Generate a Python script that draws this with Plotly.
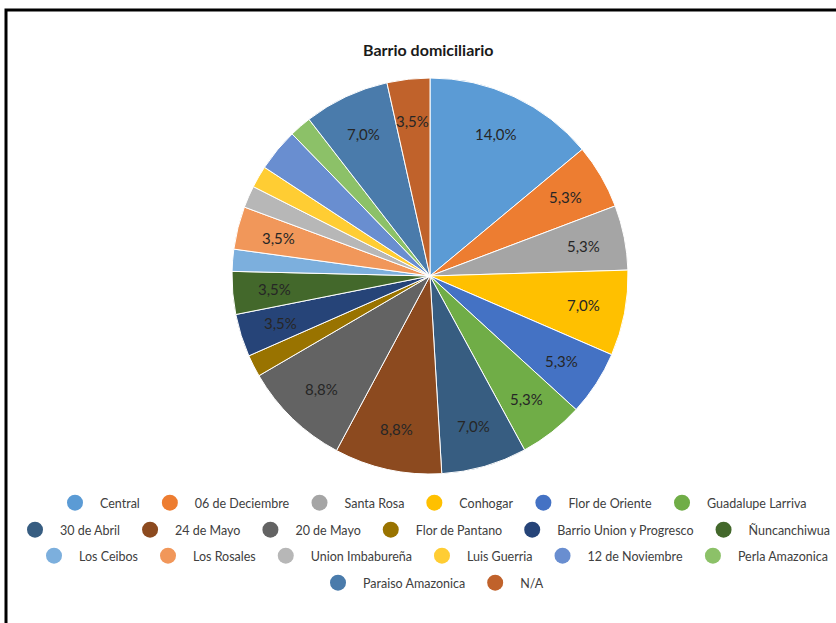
import math
import plotly.graph_objects as go

W, H = 836, 623

barrios = [
    "Central", "06 de Deciembre", "Santa Rosa", "Conhogar", "Flor de Oriente",
    "Guadalupe Larriva", "30 de Abril", "24 de Mayo", "20 de Mayo", "Flor de Pantano",
    "Barrio Union y Progresco", "Ñuncanchiwua", "Los Ceibos", "Los Rosales",
    "Union Imbabureña", "Luis Guerria", "12 de Noviembre", "Perla Amazonica",
    "Paraiso Amazonica", "N/A",
]
porcentajes = [14.0, 5.3, 5.3, 7.0, 5.3, 5.3, 7.0, 8.8, 8.8, 1.8,
               3.5, 3.5, 1.8, 3.5, 1.8, 1.8, 3.5, 1.8, 7.0, 3.5]
mostrar_etiqueta = [True, True, True, True, True, True, True, True, True, False,
                    True, True, False, True, False, False, False, False, True, True]
colores = [
    "#5B9BD5", "#ED7D31", "#A5A5A5", "#FFC000", "#4472C4", "#70AD47",
    "#375D81", "#8C4A1F", "#636363", "#997300", "#264478", "#43682B",
    "#7CAFDD", "#F1975A", "#B7B7B7", "#FFCD33", "#698ED0", "#8CC168",
    "#4A7BAB", "#C0622B",
]
filas_leyenda = [barrios[0:6], barrios[6:12], barrios[12:18], barrios[18:20]]

# pie geometry in pixels
cx, cy, R = 430, 276, 198
FONT = "Lato, Open Sans, sans-serif"

fig = go.Figure()
fig.add_trace(go.Pie(
    labels=barrios, values=porcentajes, sort=False, direction="clockwise",
    marker=dict(colors=colores, line=dict(color="white", width=1)),
    textinfo="none", hoverinfo="label+percent", showlegend=False,
    domain=dict(x=[(cx - R) / W, (cx + R) / W], y=[1 - (cy + R) / H, 1 - (cy - R) / H]),
))

# data labels at the slice mid-angles
total = sum(porcentajes)
acum = 0.0
for v, show in zip(porcentajes, mostrar_etiqueta):
    mid = (acum + v / 2) / total * 2 * math.pi
    acum += v
    if not show:
        continue
    r = 0.79 * R
    px = cx + r * math.sin(mid)
    py = cy - r * math.cos(mid)
    fig.add_annotation(
        x=px / W, y=1 - py / H, xref="paper", yref="paper", showarrow=False,
        text=f"{v:.1f}%".replace(".", ","),
        font=dict(family=FONT, size=15, color="#262626"),
        xanchor="center", yanchor="middle",
    )

# legend entries with round markers, one legend per row
fila_y = [503, 530, 556, 583]
for i, fila in enumerate(filas_leyenda):
    key = "legend" if i == 0 else f"legend{i + 1}"
    for nombre in fila:
        idx = barrios.index(nombre)
        fig.add_trace(go.Scatter(
            x=[None], y=[None], mode="markers", name=nombre,
            marker=dict(symbol="circle", size=16, color=colores[idx]),
            legend=key, showlegend=True, hoverinfo="skip",
        ))
    fig.layout[key] = dict(
        orientation="h", x=431 / W, xanchor="center", y=1 - fila_y[i] / H,
        yanchor="middle", font=dict(family=FONT, size=12.5, color="#404040"),
        bgcolor="rgba(0,0,0,0)", itemclick=False, itemdoubleclick=False,
        itemsizing="trace", traceorder="normal", itemwidth=40,
    )

fig.add_annotation(
    x=428 / W, y=1 - 50 / H, xref="paper", yref="paper", showarrow=False,
    text="<b>Barrio domiciliario</b>",
    font=dict(family=FONT, size=16, color="#1a1a1a"),
    xanchor="center", yanchor="middle",
)

# chart frame
fig.add_shape(type="rect", xref="paper", yref="paper",
              x0=6 / W, x1=1.05, y0=-0.05, y1=1 - 10 / H,
              line=dict(color="black", width=3), fillcolor="rgba(0,0,0,0)")

fig.update_layout(
    width=W, height=H, margin=dict(l=0, r=0, t=0, b=0),
    paper_bgcolor="white", plot_bgcolor="white",
    xaxis=dict(visible=False), yaxis=dict(visible=False),
)

fig.write_html("out.html")
